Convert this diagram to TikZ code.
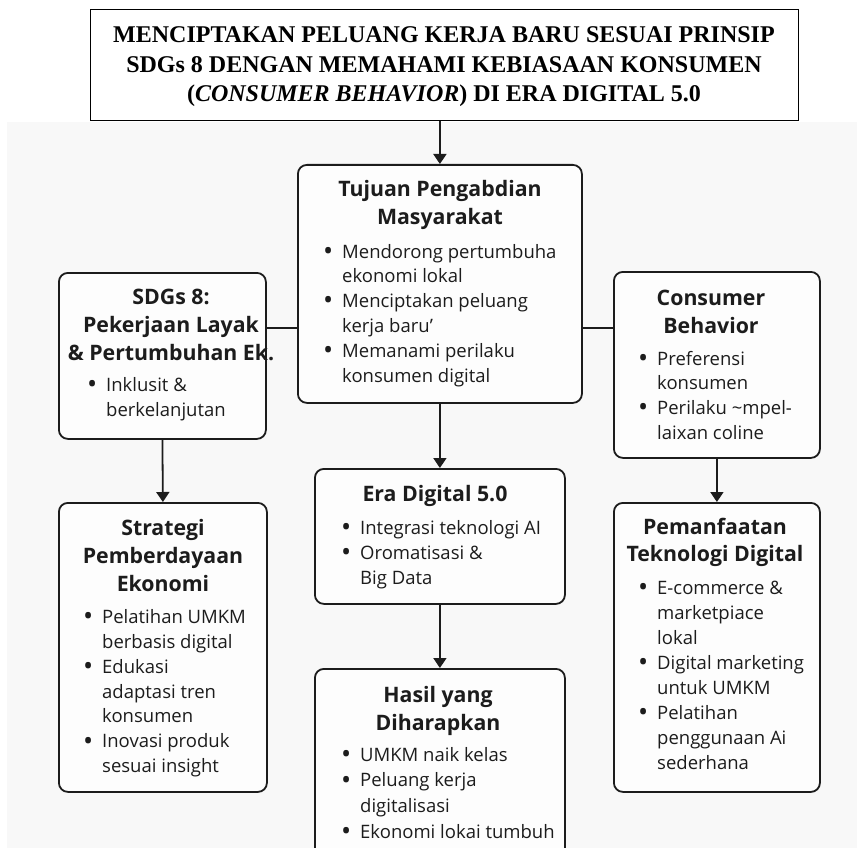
\documentclass[tikz,border=0pt]{standalone}
\usepackage{fontspec}
\setmainfont{Liberation Serif}
\newfontfamily\bodyfont{Open Sans}
\usetikzlibrary{arrows.meta}
\definecolor{bg}{HTML}{F8F8F8}
\definecolor{ink}{HTML}{1C1C1C}
\definecolor{boxfill}{HTML}{FDFDFD}
\newcommand\bu{\makebox[19pt][l]{\raisebox{-2.2pt}{\fontsize{27}{27}\selectfont•}}}
\newcommand\hd[1]{\begin{tabular}[t]{@{}c@{}}#1\end{tabular}}
\newcommand\bl[1]{\begin{tabular}[t]{@{}l@{}l@{}}#1\end{tabular}}
\tikzset{
  box/.style={draw=ink, line width=1.8pt, rounded corners=9pt, fill=boxfill, inner sep=0pt, anchor=north west},
  titlebox/.style={draw=black, line width=1.2pt, fill=white, inner sep=0pt, anchor=north west},
  titletext/.style={font=\bfseries\fontsize{24}{29.5}\selectfont, text=black, anchor=base, inner sep=0pt},
  head/.style={font=\bodyfont\bfseries\fontsize{21.3}{#1}\selectfont, text=ink, anchor=base, inner sep=0pt},
  head/.default=28,
  items/.style={font=\bodyfont\fontsize{18.5}{#1}\selectfont, text=ink, anchor=base west, inner sep=0pt},
  items/.default=25,
  conn/.style={draw=ink, line width=1.8pt},
  arr/.style={conn, -{Triangle[width=13pt,length=10pt]}},
}
\begin{document}
\begin{tikzpicture}[x=1pt,y=-1pt]
\useasboundingbox (0,0) rectangle (857,848);
\clip (0,0) rectangle (857,848);
\fill[bg] (7,122) rectangle (857,848);

% title
\node[titlebox, minimum width=708pt, minimum height=111pt] (title) at (90,9) {};
\node[titletext] (titletxt) at (444,42.7) {\hd{MENCIPTAKAN PELUANG KERJA BARU SESUAI PRINSIP\\
SDGs 8 DENGAN MEMAHAMI KEBIASAAN KONSUMEN\\
(\textit{CONSUMER BEHAVIOR}) DI ERA DIGITAL 5.0}};

% boxes
\node[box, minimum width=284pt, minimum height=238pt] (tuj) at (297,164) {};
\node[box, minimum width=207pt, minimum height=166pt] (sdg) at (58,272) {};
\node[box, minimum width=206pt, minimum height=186pt] (cb) at (613,271) {};
\node[box, minimum width=208pt, minimum height=289pt] (str) at (58,502) {};
\node[box, minimum width=250pt, minimum height=135pt] (era) at (314,468) {};
\node[box, minimum width=250pt, minimum height=240pt] (has) at (314,668) {};
\node[box, minimum width=206pt, minimum height=289pt] (pem) at (613,502) {};

% connectors
\coordinate (hl) at (0,328);
\draw[arr] (tuj.north |- title.south) -- (tuj.north);
\draw[conn] (sdg.east |- hl) -- (tuj.west |- hl);
\draw[conn] (tuj.east |- hl) -- (cb.west |- hl);
\draw[arr] (tuj.south) -- (era.north);
\draw[arr] (era.south) -- (has.north);
\draw[arr] (sdg.south) -- (str.north);
\draw[arr] (cb.south) -- (pem.north);

% texts
\node[head] (tujh) at (440,196.7) {\hd{Tujuan Pengabdian\\Masyarakat}};
\node[items=24.8] (tuji) at (323,258) {\bl{\bu & Mendorong pertumbuha\\ & ekonomi lokal\\
\bu & Menciptakan peluang\\ & kerja baru’\\ \bu & Memanami perilaku\\ & konsumen digital}};

\node[head] (sdgh) at (171,304) {\hd{SDGs 8:\\Pekerjaan Layak\\\& Pertumbuhan Ek.}};
\node[items=24.5] (sdgi) at (87,391.7) {\bl{\bu & Inklusit \&\\ & berkelanjutan}};

\node[head] (cbh) at (711,305.7) {\hd{Consumer\\Behavior}};
\node[items=24.7] (cbi) at (638,365) {\bl{\bu & Preferensi\\ & konsumen\\
\bu & Perilaku \textasciitilde mpel-\\ & laixan coline}};

\node[head] (strh) at (163,535) {\hd{Strategi\\Pemberdayaan\\Ekonomi}};
\node[items=24.9] (stri) at (83,623.3) {\bl{\bu & Pelatihan UMKM\\ & berbasis digital\\
\bu & Edukasi\\ & adaptasi tren\\ & konsumen\\ \bu & Inovasi produk\\ & sesuai insight}};

\node[head] (erah) at (435,501.7) {\hd{Era Digital 5.0}};
\node[items=25] (erai) at (341,534.3) {\bl{\bu & Integrasi teknologi AI\\
\bu & Oromatisasi \&\\ & Big Data}};

\node[head=27.3] (hash) at (438,702.7) {\hd{Hasil yang\\Diharapkan}};
\node[items=25.8] (hasi) at (341,761) {\bl{\bu & UMKM naik kelas\\
\bu & Peluang kerja\\ & digitalisasi\\ \bu & Ekonomi lokai tumbuh}};

\node[head=27.7] (pemh) at (715,534) {\hd{Pemanfaatan\\Teknologi Digital}};
\node[items=25.1] (pemi) at (638,594) {\bl{\bu & E-commerce \&\\ & marketpiace\\ & lokal\\
\bu & Digital marketing\\ & untuk UMKM\\ \bu & Pelatihan\\ & penggunaan Ai\\ & sederhana}};
\end{tikzpicture}
\end{document}
